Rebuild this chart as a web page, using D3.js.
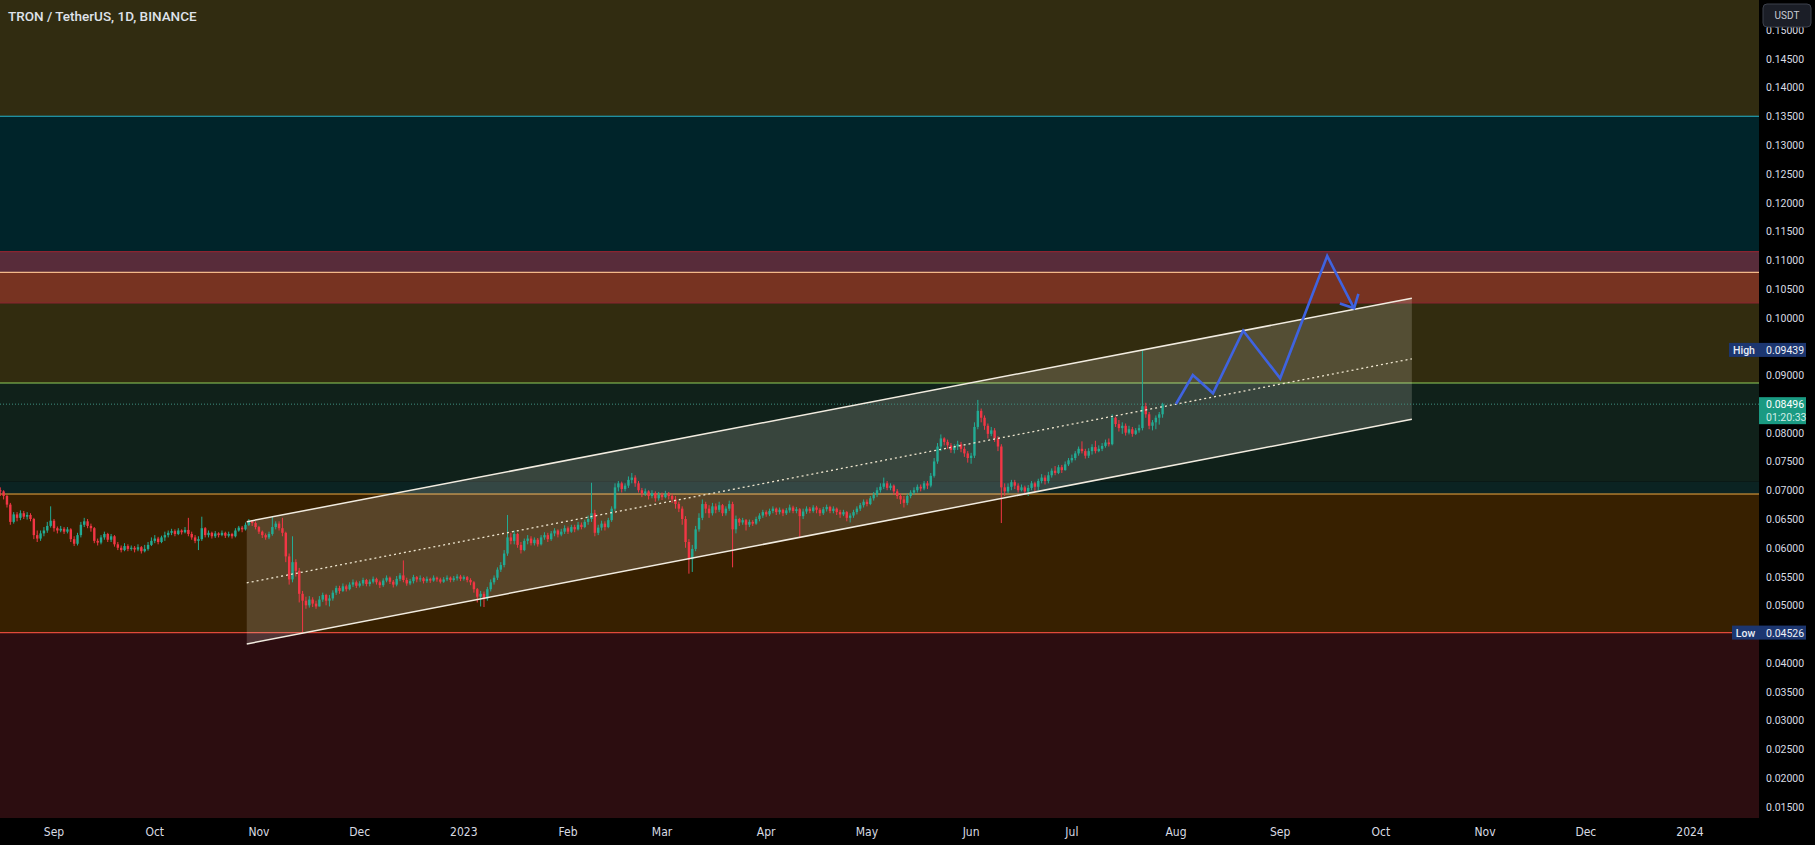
<!DOCTYPE html>
<html><head><meta charset="utf-8">
<script src="https://cdn.jsdelivr.net/npm/d3@7"></script>
<style>html,body{margin:0;padding:0;background:#000;overflow:hidden}</style>
</head><body>
<svg id="chart" width="1815" height="845"></svg>
<script>
// ---------- DATA ----------
const title = "TRON / TetherUS, 1D, BINANCE";
const startDate = "2022-08-16";       // first daily candle
const firstOpen = 700;                // price in 1e-4 USDT units
const closes = [
698,690,675,645,658,652,660,654,657,650,622,616,625,630,638,647,634,
630,633,628,632,615,607,622,640,646,638,634,612,609,618,624,614,620,606,600,596,603,598,600,597,601,594,598,605,612,616,610,618,622,626,
629,624,630,627,631,624,618,612,615,634,622,626,620,625,622,626,621,624,620,630,635,632,640,646,
643,636,628,622,618,624,636,642,634,626,585,545,575,560,520,508,500,510,503,498,
510,518,508,512,522,530,525,533,528,536,540,534,538,544,537,541,546,540,535,543,548,541,536,546,552,544,538,542,549,545,547,542,546,543,548,545,541,545,548,544,547,550,546,549,544,540,528,515,520,512,528,
540,548,562,570,590,618,612,624,605,596,612,616,608,614,606,618,622,615,625,630,623,628,634,628,636,632,640,636,645,650,660,626,635,642,636,648,668,705,712,702,708,718,722,712,700,
694,698,690,695,686,692,688,694,690,684,676,668,650,610,580,598,632,652,676,668,660,672,666,674,660,668,676,632,650,
644,648,640,645,642,650,656,662,658,664,668,662,666,660,665,670,664,667,655,663,668,664,670,666,660,667,671,664,668,662,658,662,652,656,662,668,674,680,676,686,692,700,706,712,704,708,698,690,684,678,690,696,700,706,703,712,708,725,750,776,790,
784,778,770,776,780,772,764,756,760,810,838,826,812,798,804,790,776,705,698,
706,714,708,700,705,698,704,712,706,716,722,716,726,734,730,740,735,745,752,756,764,772,768,760,768,775,768,772,777,783,780,826,815,808,812,800,806,798,804,808,846,832,812,818,826,832,849.6
];
const highs = [
705,700,692,678,662,662,665,664,662,660,652,630,630,636,645,672,650,
637,638,636,636,634,620,626,645,652,650,642,636,616,622,628,626,624,622,610,604,608,606,604,603,606,603,605,610,618,622,619,621,628,630,
633,632,634,632,636,652,628,622,620,654,636,630,628,629,627,630,628,628,626,634,638,638,644,650,
648,646,638,630,625,628,654,646,646,652,628,590,620,580,565,525,515,516,514,508,
516,522,520,518,526,534,534,538,536,540,545,543,542,548,546,545,550,548,543,547,552,550,544,551,556,578,548,546,553,551,552,549,550,548,552,550,548,549,552,550,551,554,553,552,551,547,542,530,525,524,532,
545,552,566,575,596,657,626,630,626,610,616,622,620,618,617,622,627,626,629,634,632,633,639,637,640,640,645,644,649,656,713,666,640,647,646,652,672,712,716,715,712,724,730,726,716,
704,703,700,700,698,697,696,699,697,694,690,680,672,655,615,605,638,660,684,680,674,678,677,680,676,672,682,680,656,
652,652,650,649,648,654,660,666,665,668,672,670,670,668,669,675,673,671,669,668,672,671,674,673,669,671,675,673,672,670,666,666,664,660,666,672,678,684,684,690,697,705,712,722,716,712,710,702,694,690,694,700,705,710,710,716,716,730,756,782,797,
792,788,782,780,786,784,776,768,765,818,857,842,830,816,810,808,794,780,712,
712,718,718,712,710,708,709,716,715,720,728,726,732,738,742,744,744,750,756,762,768,776,785,772,773,780,786,778,782,788,790,832,828,822,818,816,812,810,808,814,943.9,852,836,822,830,836,852
];
const lows = [
690,684,670,640,642,646,648,650,649,646,615,610,612,620,626,635,628,
625,627,624,625,610,603,604,618,636,634,628,608,604,606,614,610,610,602,596,592,594,594,595,592,594,590,592,595,603,608,606,608,612,618,
622,620,622,623,625,620,614,608,596,612,618,618,616,617,618,620,617,618,616,618,628,627,630,638,
638,632,624,617,614,615,621,632,630,620,575,536,540,550,505,452.6,494,496,497,494,
500,506,500,498,508,518,520,523,524,526,532,530,531,534,533,533,538,536,530,532,540,537,531,533,542,540,534,535,538,540,541,538,539,539,541,541,538,539,542,540,541,543,542,543,540,535,522,505,498,497,508,
524,536,544,558,566,586,606,606,600,590,594,606,604,604,602,604,614,610,612,620,618,620,624,624,626,627,630,632,634,640,645,620,622,630,630,634,645,664,698,696,698,704,712,706,696,
688,690,684,686,680,682,683,686,684,678,668,662,640,600,555,558,594,628,648,660,652,656,660,662,655,656,664,566,625,
638,640,630,636,638,640,646,652,654,655,660,657,658,655,657,661,660,660,618,650,659,660,661,660,655,657,663,660,660,657,652,655,646,644,652,658,664,670,672,674,682,688,696,702,700,700,692,685,676,670,674,686,692,696,698,700,702,705,722,746,768,
778,772,765,764,770,766,758,748,746,756,806,818,805,790,794,784,768,643,690,
695,700,702,696,698,692,690,700,698,700,712,710,712,722,726,728,730,734,742,748,752,760,764,755,756,762,764,766,768,774,776,778,810,802,798,795,797,793,796,800,804,826,806,804,806,814,826
];

const xTickDates = ["2022-09-01","2022-10-01","2022-11-01","2022-12-01","2023-01-01","2023-02-01","2023-03-01","2023-04-01","2023-05-01","2023-06-01","2023-07-01","2023-08-01","2023-09-01","2023-10-01","2023-11-01","2023-12-01","2024-01-01"];
const xTickLabels = ["Sep","Oct","Nov","Dec","2023","Feb","Mar","Apr","May","Jun","Jul","Aug","Sep","Oct","Nov","Dec","2024"];
const yTicks = [0.015,0.020,0.025,0.030,0.035,0.040,0.045,0.050,0.055,0.060,0.065,0.070,0.075,0.080,0.085,0.090,0.095,0.100,0.105,0.110,0.115,0.120,0.125,0.130,0.135,0.140,0.145,0.150];

// zone boundaries (price), top to bottom
const zoneLevels = [0.135, 0.11146, 0.10788, 0.10254, 0.08864, 0.07148, 0.06935, 0.04526];
// horizontal level lines
const levelLines = [0.135, 0.10788, 0.08864, 0.06935, 0.04526];
const borderLines = [0.11146, 0.10254];

// parallel channel (two anchor dates, prices of upper and lower line)
const channelDates = ["2022-10-28T09:00:00Z", "2023-10-10T05:00:00Z"];
const channelUpper = [0.06453, 0.10336];
const channelLower = [0.04328, 0.08233];

// projected path
const projDates = ["2023-08-01","2023-08-06","2023-08-12","2023-08-21","2023-09-01","2023-09-15","2023-09-23"];
const projPrices = [0.08499, 0.09003, 0.08685, 0.09773, 0.08945, 0.11071, 0.10162];

const highValue = 0.09439, lowValue = 0.04526, lastPrice = 0.08496;
const countdown = "01:20:33";

// ---------- STYLES ----------
const zoneColors = ["#312c11","#00242a","#582c3a","#773321","#322c0f","#10211a","#0b2322","#372000","#2c0d10"];
const levelColors = ["#29b6cc","#f3b98a","#8fcf5a","#f0a840","#e04a3a"];
const upColor = "#22ab94", downColor = "#f23645";

// ---------- LAYOUT ----------
const W = 1815, H = 845, plotR = 1759, plotB = 818;
const svg = d3.select("#chart");
const x = d3.scaleUtc().domain([new Date("2022-09-01T00:00:00Z"), new Date("2024-01-01T00:00:00Z")]).range([54, 1690]);
const y = d3.scaleLinear().domain([0.015, 0.145]).range([806.7, 58.7]);

svg.append("rect").attr("width", W).attr("height", H).attr("fill", "#000");
svg.append("defs").append("clipPath").attr("id", "plotclip")
  .append("rect").attr("x", 0).attr("y", 0).attr("width", plotR).attr("height", plotB);
const plot = svg.append("g").attr("clip-path", "url(#plotclip)");

// zones
const bounds = [y.invert(0), ...zoneLevels, y.invert(plotB)];
for (let i = 0; i < zoneColors.length; i++) {
  const yt = y(bounds[i]), yb = y(bounds[i + 1]);
  plot.append("rect").attr("x", 0).attr("width", plotR).attr("y", yt).attr("height", yb - yt).attr("fill", zoneColors[i]);
}
borderLines.forEach(v => plot.append("line").attr("x1", 0).attr("x2", plotR).attr("y1", y(v)).attr("y2", y(v))
  .attr("stroke", "#8a2430").attr("stroke-width", 1.2));
levelLines.forEach((v, i) => plot.append("line").attr("x1", 0).attr("x2", plotR).attr("y1", y(v)).attr("y2", y(v))
  .attr("stroke", levelColors[i]).attr("stroke-width", 1.2));

// channel
const cx0 = x(new Date(channelDates[0])), cx1 = x(new Date(channelDates[1]));
plot.append("polygon")
  .attr("points", [[cx0, y(channelUpper[0])], [cx1, y(channelUpper[1])], [cx1, y(channelLower[1])], [cx0, y(channelLower[0])]].map(p => p.join(",")).join(" "))
  .attr("fill", "rgba(255,250,235,0.17)");

// price line
plot.append("line").attr("x1", 0).attr("x2", plotR).attr("y1", y(lastPrice)).attr("y2", y(lastPrice))
  .attr("stroke", "#3f8f80").attr("stroke-width", 1).attr("stroke-dasharray", "1 2");

// candles
const day0 = new Date(startDate + "T00:00:00Z").getTime();
const candles = closes.map((c, i) => {
  const o = i === 0 ? firstOpen : closes[i - 1];
  const h = Math.max(highs[i] ?? c, o, c), l = Math.min(lows[i] ?? c, o, c);
  return { date: new Date(day0 + i * 86400000), o: o / 1e4, h: h / 1e4, l: l / 1e4, c: c / 1e4 };
});
const cg = plot.append("g");
const bw = 2.4;
cg.selectAll("line.wick").data(candles).join("line").attr("class", "wick")
  .attr("x1", d => x(d.date)).attr("x2", d => x(d.date))
  .attr("y1", d => y(d.h)).attr("y2", d => y(d.l))
  .attr("stroke", d => d.c >= d.o ? upColor : downColor).attr("stroke-width", 1);
cg.selectAll("rect.body").data(candles).join("rect").attr("class", "body")
  .attr("x", d => x(d.date) - bw / 2).attr("width", bw)
  .attr("y", d => y(Math.max(d.o, d.c)))
  .attr("height", d => Math.max(1, Math.abs(y(d.o) - y(d.c))))
  .attr("fill", d => d.c >= d.o ? upColor : downColor);

// channel lines
const lineStyle = sel => sel.attr("stroke", "#f2ece0").attr("stroke-width", 1.5);
lineStyle(plot.append("line").attr("x1", cx0).attr("x2", cx1).attr("y1", y(channelUpper[0])).attr("y2", y(channelUpper[1])));
lineStyle(plot.append("line").attr("x1", cx0).attr("x2", cx1).attr("y1", y(channelLower[0])).attr("y2", y(channelLower[1])));
plot.append("line").attr("x1", cx0).attr("x2", cx1)
  .attr("y1", y((channelUpper[0] + channelLower[0]) / 2)).attr("y2", y((channelUpper[1] + channelLower[1]) / 2))
  .attr("stroke", "#efe6cf").attr("stroke-width", 1.3).attr("stroke-dasharray", "2 3");

// projection path
const pts = projDates.map((d, i) => [x(new Date(d + "T00:00:00Z")), y(projPrices[i])]);
plot.append("path").attr("d", d3.line()(pts)).attr("fill", "none")
  .attr("stroke", "#3f63e0").attr("stroke-width", 2.6).attr("stroke-linejoin", "miter");
{
  const [ax, ay] = pts[pts.length - 1], [bx, by] = pts[pts.length - 2];
  const ang = Math.atan2(by - ay, bx - ax), L = 15, sp = Math.PI / 4.1;
  const w1 = [ax + L * Math.cos(ang - sp), ay + L * Math.sin(ang - sp)];
  const w2 = [ax + L * Math.cos(ang + sp), ay + L * Math.sin(ang + sp)];
  plot.append("path").attr("d", d3.line()([w1, [ax, ay], w2])).attr("fill", "none")
    .attr("stroke", "#3f63e0").attr("stroke-width", 2.6);
}

// title
svg.append("text").attr("x", 8).attr("y", 21).text(title)
  .attr("fill", "#dfe2ea").attr("font-family", "Roboto, 'Liberation Sans', sans-serif").attr("font-size", 13.5).attr("font-weight", 500);

// x axis
const xa = svg.append("g");
xTickDates.forEach((d, i) => {
  xa.append("text").attr("x", x(new Date(d + "T00:00:00Z"))).attr("y", 836).attr("text-anchor", "middle")
    .attr("fill", "#d8dbe3").attr("font-family", "'Liberation Sans Narrow', 'DejaVu Sans Condensed', sans-serif")
    .attr("font-size", 12).text(xTickLabels[i]);
});

// y axis
const ya = svg.append("g");
const tags = [highValue, lastPrice, lowValue];
yTicks.forEach(v => {
  if (tags.some(t => Math.abs(y(t) - y(v)) < 12)) return;
  ya.append("text").attr("x", 1766).attr("y", y(v) + 4).text(v.toFixed(5))
    .attr("fill", "#d8dbe3").attr("font-family", "Roboto, 'Liberation Sans', sans-serif").attr("font-size", 10.5);
});

function tag(v, label, fill) {
  const yy = y(v);
  if (label) {
    svg.append("rect").attr("x", label === "High" ? 1729 : 1732).attr("y", yy - 7).attr("width", label === "High" ? 30 : 27).attr("height", 14).attr("fill", fill);
    svg.append("text").attr("x", label === "High" ? 1744 : 1745.5).attr("y", yy + 4).attr("text-anchor", "middle").text(label)
      .attr("fill", "#e8ecf5").attr("font-family", "Roboto, sans-serif").attr("font-size", 10.5).attr("font-weight", 500);
  }
  svg.append("rect").attr("x", 1759).attr("y", yy - 7).attr("width", 47).attr("height", 14).attr("fill", fill);
  svg.append("text").attr("x", 1766).attr("y", yy + 4).text(v.toFixed(5))
    .attr("fill", "#eef1f7").attr("font-family", "Roboto, sans-serif").attr("font-size", 10.5);
}
tag(highValue, "High", "#1c3670");
tag(lowValue, "Low", "#1c3670");
{
  const yy = y(lastPrice);
  svg.append("rect").attr("x", 1759).attr("y", yy - 7).attr("width", 47).attr("height", 27).attr("fill", "#1a9a82");
  svg.append("text").attr("x", 1766).attr("y", yy + 4).text(lastPrice.toFixed(5))
    .attr("fill", "#ffffff").attr("font-family", "Roboto, sans-serif").attr("font-size", 10.5);
  svg.append("text").attr("x", 1766).attr("y", yy + 17).text(countdown)
    .attr("fill", "#cfeee7").attr("font-family", "Roboto, sans-serif").attr("font-size", 10.5);
}

// USDT button (partly covers the top tick label, as in the original)
svg.append("rect").attr("x", 1763).attr("y", 4).attr("width", 48).attr("height", 23).attr("rx", 4)
  .attr("fill", "#1b1e27").attr("stroke", "#3c404c").attr("stroke-width", 1);
svg.append("text").attr("x", 1787).attr("y", 19).attr("text-anchor", "middle").text("USDT")
  .attr("fill", "#c9ccd6").attr("font-family", "Roboto, sans-serif").attr("font-size", 10);
</script>
</body></html>
